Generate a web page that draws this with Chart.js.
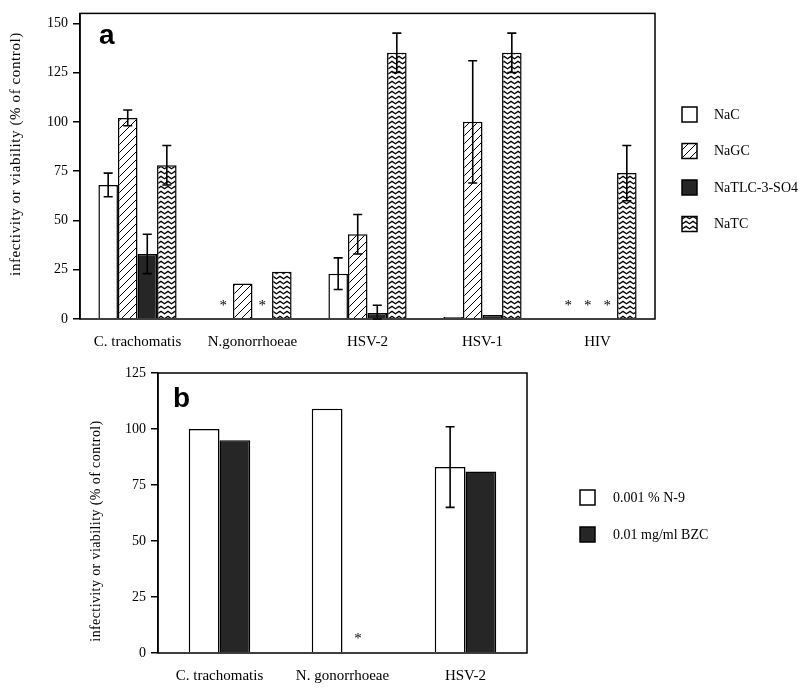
<!DOCTYPE html>
<html>
<head>
<meta charset="utf-8">
<script src="https://cdn.jsdelivr.net/npm/chart.js@4.4.1/dist/chart.umd.min.js"></script>
<style>
  body { margin: 0; background: #fff; }
  #wrapA { position: absolute; left: 0; top: 0; width: 800px; height: 355px; }
  #wrapB { position: absolute; left: 0; top: 355px; width: 800px; height: 333px; }
</style>
</head>
<body>
<div id="wrapA"><canvas id="chartA"></canvas></div>
<div id="wrapB"><canvas id="chartB"></canvas></div>
<script>
// panel a - bile salts
const categoriesA = ['C. trachomatis', 'N.gonorrhoeae', 'HSV-2', 'HSV-1', 'HIV'];
const nac = [68, null, 23, 1, null];
const nacErr = [6, 0, 8, 0, 0];
const nagc = [102, 18, 43, 100, null];
const nagcErr = [4, 0, 10, 31, 0];
const natlc = [33, null, 3, 2, null];
const natlcErr = [10, 0, 4, 0, 0];
const natc = [78, 24, 135, 135, 74];
const natcErr = [10, 0, 10, 10, 14];
const ticksA = [0, 25, 50, 75, 100, 125, 150];

// panel b - reference compounds
const categoriesB = ['C. trachomatis', 'N. gonorrhoeae', 'HSV-2'];
const n9 = [100, 109, 83];
const n9Err = [0, 0, 18];
const bzc = [95, null, 81];
const bzcErr = [0, 0, 0];
const ticksB = [0, 25, 50, 75, 100, 125];

const yTitle = 'infectivity or viability (% of control)';
const serif = '"Liberation Serif", "Times New Roman", serif';

// fill patterns
function hatchPattern() {
    const c = document.createElement('canvas');
    c.width = 8; c.height = 8;
    const g = c.getContext('2d');
    g.fillStyle = '#fff'; g.fillRect(0, 0, 8, 8);
    g.strokeStyle = '#000'; g.lineWidth = 1;
    g.beginPath();
    g.moveTo(0, 8); g.lineTo(8, 0);
    g.moveTo(-1, 1); g.lineTo(1, -1);
    g.moveTo(7, 9); g.lineTo(9, 7);
    g.stroke();
    return g.createPattern(c, 'repeat');
}
function zigzagPattern() {
    const c = document.createElement('canvas');
    c.width = 7; c.height = 5;
    const g = c.getContext('2d');
    g.fillStyle = '#fff'; g.fillRect(0, 0, 7, 5);
    g.strokeStyle = '#000'; g.lineWidth = 1.3;
    g.lineJoin = 'round';
    g.beginPath();
    g.moveTo(-0.5, 1); g.lineTo(3.5, 3.8); g.lineTo(7.5, 1);
    g.stroke();
    return g.createPattern(c, 'repeat');
}

// error bars, stars, frame, letter, y title and legend
const extras = {
    id: 'extras',
    afterDatasetsDraw(chart, args, opts) {
        const ctx = chart.ctx, y = chart.scales.y, area = chart.chartArea;
        ctx.save();
        chart.data.datasets.forEach((ds, di) => {
            const meta = chart.getDatasetMeta(di);
            ds.data.forEach((v, i) => {
                const bar = meta.data[i];
                if (!bar) return;
                if (v === null) {
                    ctx.fillStyle = '#000';
                    ctx.font = '15px ' + serif;
                    ctx.textAlign = 'center';
                    ctx.textBaseline = 'middle';
                    ctx.fillText('*', bar.x, y.getPixelForValue(opts.starAt) + 3);
                    return;
                }
                const e = ds.errors ? ds.errors[i] : 0;
                if (!e) return;
                const top = y.getPixelForValue(v + e);
                const bot = y.getPixelForValue(Math.max(0, v - e));
                ctx.strokeStyle = '#000';
                ctx.lineWidth = 1.6;
                ctx.beginPath();
                ctx.moveTo(bar.x, top); ctx.lineTo(bar.x, bot);
                ctx.moveTo(bar.x - 4.5, top); ctx.lineTo(bar.x + 4.5, top);
                ctx.moveTo(bar.x - 4.5, bot); ctx.lineTo(bar.x + 4.5, bot);
                ctx.stroke();
            });
        });
        // box round the plot
        ctx.strokeStyle = '#000';
        ctx.lineWidth = 1.5;
        ctx.strokeRect(area.left, area.top, area.right - area.left, area.bottom - area.top);
        // panel letter
        ctx.fillStyle = '#000';
        ctx.font = 'bold 28px "Liberation Sans", Arial, sans-serif';
        ctx.textAlign = 'left';
        ctx.textBaseline = 'alphabetic';
        ctx.fillText(opts.letter, opts.letterX, opts.letterY);
        // y title
        ctx.save();
        ctx.translate(opts.titleX, opts.titleY);
        ctx.rotate(-Math.PI / 2);
        ctx.font = opts.titleSize + 'px ' + serif;
        if ('letterSpacing' in ctx) ctx.letterSpacing = opts.titleSpacing + 'px';
        ctx.textAlign = 'center';
        ctx.textBaseline = 'middle';
        ctx.fillText(yTitle, 0, 0);
        ctx.restore();
        // legend
        const lg = opts.legend;
        chart.data.datasets.forEach((ds, di) => {
            const by = lg.y + di * lg.dy;
            ctx.fillStyle = ds.backgroundColor;
            ctx.fillRect(lg.x, by, 15, 15);
            ctx.strokeStyle = '#000';
            ctx.lineWidth = 1.5;
            ctx.strokeRect(lg.x, by, 15, 15);
            ctx.fillStyle = '#000';
            ctx.font = '14px ' + serif;
            ctx.textAlign = 'left';
            ctx.textBaseline = 'middle';
            ctx.fillText(ds.label, lg.textX, by + 8);
        });
        ctx.restore();
    }
};

function barSet(label, data, errors, fill) {
    return {
        label: label, data: data, errors: errors,
        backgroundColor: fill, borderColor: '#000', borderWidth: 1.5,
        barPercentage: 1
    };
}

function scalesFor(labels, max, ticks, yWidth, xHeight) {
    return {
        x: {
            type: 'category', labels: labels,
            grid: { display: false, drawTicks: false },
            border: { display: false },
            ticks: { color: '#000', font: { family: serif, size: 15 }, padding: 14, maxRotation: 0 },
            afterFit(s) { s.height = xHeight; }
        },
        y: {
            min: 0, max: max,
            grid: { drawOnChartArea: false, color: '#000', lineWidth: 1.5, tickLength: 7 },
            border: { color: '#000', width: 1.5 },
            ticks: { color: '#000', font: { family: serif, size: 14 }, padding: 5, stepSize: 25, includeBounds: false },
            afterBuildTicks(s) { s.ticks = ticks.map(v => ({ value: v })); },
            afterFit(s) { s.width = yWidth; }
        }
    };
}

const baseOpts = {
    responsive: true, maintainAspectRatio: false, animation: false,
    datasets: { bar: { categoryPercentage: 0.68 } }
};

new Chart(document.getElementById('chartA'), {
    type: 'bar',
    data: {
        labels: categoriesA,
        datasets: [
            barSet('NaC', nac, nacErr, '#fff'),
            barSet('NaGC', nagc, nagcErr, hatchPattern()),
            barSet('NaTLC-3-SO4', natlc, natlcErr, '#262626'),
            barSet('NaTC', natc, natcErr, zigzagPattern())
        ]
    },
    options: Object.assign({}, baseOpts, {
        layout: { padding: { left: 0, right: 145, top: 8, bottom: 0 } },
        scales: scalesFor(categoriesA, 155, ticksA, 80, 36),
        plugins: {
            legend: { display: false },
            tooltip: { enabled: false },
            extras: {
                starAt: 8, letter: 'a', letterX: 99, letterY: 44,
                titleX: 16, titleY: 154, titleSize: 15, titleSpacing: 0.6,
                legend: { x: 682, y: 107, dy: 36.5, textX: 714 }
            }
        }
    }),
    plugins: [extras]
});

new Chart(document.getElementById('chartB'), {
    type: 'bar',
    data: {
        labels: categoriesB,
        datasets: [
            barSet('0.001 % N-9', n9, n9Err, '#fff'),
            barSet('0.01 mg/ml BZC', bzc, bzcErr, '#262626')
        ]
    },
    options: Object.assign({}, baseOpts, {
        datasets: { bar: { categoryPercentage: 0.5 } },
        layout: { padding: { left: 0, right: 273, top: 18, bottom: 0 } },
        scales: scalesFor(categoriesB, 125, ticksB, 158, 35),
        plugins: {
            legend: { display: false },
            tooltip: { enabled: false },
            extras: {
                starAt: 7.6, letter: 'b', letterX: 173, letterY: 52,
                titleX: 96, titleY: 176, titleSize: 14, titleSpacing: 0.4,
                legend: { x: 580, y: 135, dy: 37, textX: 613 }
            }
        }
    }),
    plugins: [extras]
});
</script>
</body>
</html>
